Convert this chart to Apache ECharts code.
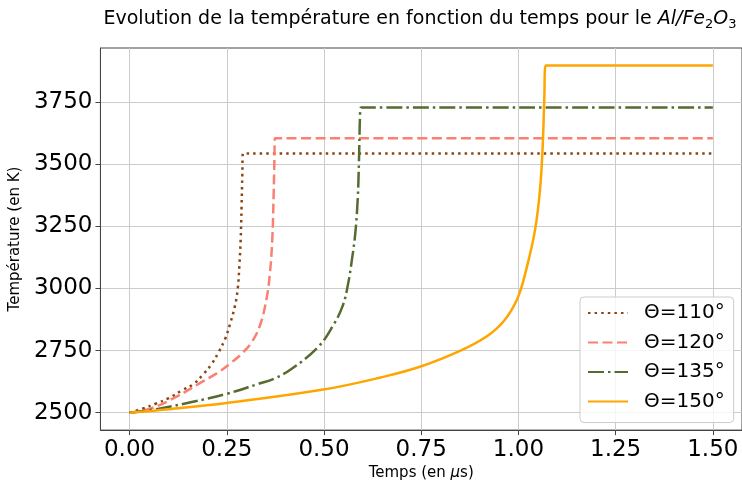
<!DOCTYPE html>
<html><head><meta charset="utf-8">
<script src="https://cdn.jsdelivr.net/npm/echarts@6/dist/echarts.min.js"></script>
<style>html,body{margin:0;padding:0;background:#fff}#c{width:742px;height:486px}</style>
</head><body><div id="c"></div>
<script>
const xTicks = [0, 0.25, 0.5, 0.75, 1.0, 1.25, 1.5];
const yTicks = [2500, 2750, 3000, 3250, 3500, 3750];
const seriesNames = ['Θ=110°', 'Θ=120°', 'Θ=135°', 'Θ=150°'];

const t110 = [0, 0.0325, 0.067, 0.101, 0.135, 0.165, 0.190, 0.2115, 0.2286, 0.2456, 0.2584, 0.271, 0.278, 0.2823, 0.2857, 0.288, 0.290, 0.2916, 0.30, 1.5];
const T110 = [2500, 2516, 2536, 2559, 2590, 2616, 2656, 2697, 2743, 2797, 2857, 2930, 2997, 3091, 3198, 3332, 3465, 3543, 3543, 3543];

const t120 = [0, 0.058, 0.126, 0.1775, 0.2286, 0.2627, 0.29, 0.314, 0.335, 0.352, 0.361, 0.367, 0.3705, 0.3725, 0.3738, 0.385, 1.5];
const T120 = [2500, 2519, 2569, 2616, 2663, 2703, 2740, 2784, 2850, 2957, 3064, 3200, 3380, 3520, 3605, 3605, 3605];

const t135 = [0, 0.075, 0.16, 0.25, 0.331, 0.373, 0.416, 0.484, 0.523, 0.548, 0.561, 0.572, 0.5806, 0.5866, 0.590, 0.5926, 0.595, 0.605, 1.5];
const T135 = [2500, 2516, 2543, 2576, 2616, 2638, 2676, 2763, 2850, 2930, 3011, 3118, 3225, 3358, 3519, 3693, 3729, 3729, 3729];

const t150 = [0, 0.1, 0.25, 0.498, 0.646, 0.7486, 0.851, 0.919, 0.962, 0.9975, 1.0215, 1.043, 1.0555, 1.062, 1.0665, 1.070, 1.08, 1.5];
const T150 = [2500, 2514, 2539, 2593, 2642, 2686, 2750, 2808, 2868, 2960, 3085, 3238, 3398, 3559, 3760, 3898, 3898, 3898];

const zip = (a, b) => a.map((v, i) => [v, b[i]]);
const FONT = 'DejaVu Sans';
const chart = echarts.init(document.getElementById('c'), null, {renderer: 'canvas'});

function mkSeries(name, t, T, color, dash) {
  return {
    name: name, type: 'line', data: zip(t, T), symbol: 'none', showSymbol: false,
    smooth: 0.4,
    lineStyle: {color: color, width: 2.5, type: dash, cap: 'butt'},
    itemStyle: {color: color}, animation: false, z: 3
  };
}

chart.setOption({
  animation: false,
  backgroundColor: '#ffffff',
  graphic: [{
    type: 'text', x: 420, y: 7, z: 10,
    style: {
      text: '{n|Evolution de la température en fonction du temps pour le }{i|Al/Fe}{s|2}{i|O}{s|3}',
      textAlign: 'center', textVerticalAlign: 'top',
      rich: {
        n: {fontFamily: FONT, fontSize: 19, lineHeight: 24, fontWeight: 'normal', fill: '#000'},
        i: {fontFamily: FONT, fontSize: 19, lineHeight: 24, fontWeight: 'normal', fontStyle: 'italic', fill: '#000'},
        s: {fontFamily: FONT, fontSize: 13, lineHeight: 13, verticalAlign: 'bottom', fontWeight: 'normal', fill: '#000'}
      }
    }
  }],
  grid: {left: 98, top: 48, width: 645, height: 384, show: true, borderColor: '#444', borderWidth: 1, containLabel: false},
  xAxis: {
    type: 'value', min: -0.075, max: 1.575,
    name: '{a|Temps (en }{b|μ}{a|s)}', nameLocation: 'middle', nameGap: 30,
    nameTextStyle: {rich: {a: {fontFamily: FONT, fontSize: 15, color: '#000'}, b: {fontFamily: FONT, fontSize: 15, fontStyle: 'italic', color: '#000'}}},
    axisLine: {show: true, onZero: false, lineStyle: {color: '#444', width: 1}},
    axisTick: {show: true, length: 5, lineStyle: {color: '#444'}, customValues: xTicks},
    axisLabel: {fontFamily: FONT, fontSize: 23, color: '#000', margin: 8, customValues: xTicks,
      formatter: v => v.toFixed(2)},
    splitLine: {show: true, lineStyle: {color: '#cccccc', width: 1}}
  },
  yAxis: {
    type: 'value', min: 2430, max: 3968,
    name: 'Température (en K)', nameLocation: 'middle', nameGap: 62,
    nameTextStyle: {fontFamily: FONT, fontSize: 15, color: '#000'},
    axisLine: {show: true, onZero: false, lineStyle: {color: '#444', width: 1}},
    axisTick: {show: true, length: 5, lineStyle: {color: '#444'}, customValues: yTicks},
    axisLabel: {fontFamily: FONT, fontSize: 23, color: '#000', margin: 8, customValues: yTicks,
      formatter: v => String(v)},
    splitLine: {show: true, lineStyle: {color: '#cccccc', width: 1}}
  },
  legend: {
    orient: 'vertical', left: 580, top: 297,
    itemWidth: 40, itemHeight: 12, itemGap: 9.5,
    padding: [6, 9, 11, 7],
    backgroundColor: 'rgba(255,255,255,0.8)', borderColor: '#cccccc', borderWidth: 1, borderRadius: 4,
    itemStyle: {color: 'rgba(0,0,0,0)', borderWidth: 0, opacity: 0},
    textStyle: {fontFamily: FONT, fontSize: 20, color: '#000', padding: [0, 0, 0, 11], lineHeight: 20},
    data: seriesNames
  },
  series: [
    mkSeries(seriesNames[0], t110, T110, '#8B4513', [2.5, 4.1]),
    mkSeries(seriesNames[1], t120, T120, '#FA8072', [10, 4.5]),
    mkSeries(seriesNames[2], t135, T135, '#556B2F', [16, 4, 2.5, 4]),
    mkSeries(seriesNames[3], t150, T150, '#FFA500', 'solid')
  ]
});
</script></body></html>
